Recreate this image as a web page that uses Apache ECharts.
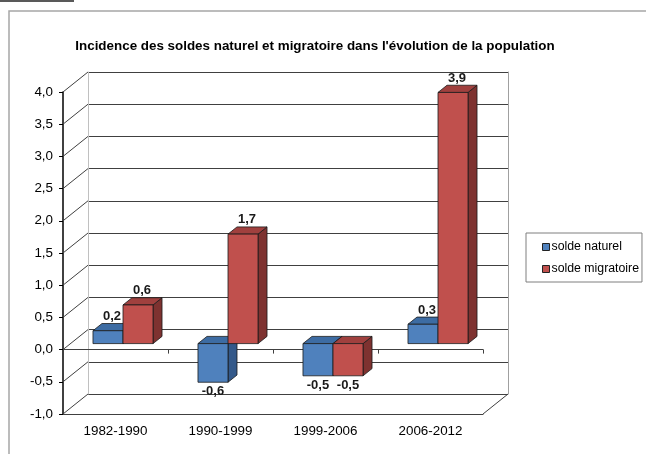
<!DOCTYPE html>
<html>
<head>
<meta charset="utf-8">
<script src="https://cdn.jsdelivr.net/npm/echarts@6/dist/echarts.min.js"></script>
<style>
html,body{margin:0;padding:0;background:#fff;}
#chart{width:646px;height:454px;}
</style>
</head>
<body>
<div id="chart"></div>
<script>
// ---- data ----
const categories = ['1982-1990', '1990-1999', '1999-2006', '2006-2012'];
const soldeNaturel = [0.2, -0.6, -0.5, 0.3];
const soldeMigratoire = [0.6, 1.7, -0.5, 3.9];
const yTicks = [-1, -0.5, 0, 0.5, 1, 1.5, 2, 2.5, 3, 3.5, 4];
const seriesNames = ['solde naturel', 'solde migratoire'];

// ---- layout / style ----
const FONT = 'Liberation Sans, Arial, sans-serif';
const FRONT = { left: 63, top: 92, width: 420, height: 322 };
const BACK = { left: 88, top: 72, width: 420, height: 322 };
const DX = BACK.left - FRONT.left;   // depth offset x
const DY = BACK.top - FRONT.top;     // depth offset y
const BAR_FRONT = 0.3;               // bar front plane (fraction of depth)
const BAR_DEPTH = 0.36;              // bar depth (fraction of depth)
const BAR_W = 0.286;                 // bar width (fraction of category)
const COLORS = [
  { front: '#4F81BD', top: '#3D6CA3', side: '#34598A' },
  { front: '#C0504D', top: '#A0403E', side: '#7E3230' }
];
const fmt = v => v.toFixed(1).replace('.', ',');

function barRenderer(sIdx) {
  return function (params, api) {
    const i = api.value(0), v = api.value(1);
    const c0 = api.coord([i, 0]);
    const c1 = api.coord([i, v]);
    const cw = api.size([1, 0])[0];
    const bw = cw * BAR_W;
    const fx = DX * BAR_FRONT, fy = DY * BAR_FRONT;
    const ddx = DX * BAR_DEPTH, ddy = DY * BAR_DEPTH;
    const x0 = c0[0] + (sIdx === 0 ? -bw : 0) + fx;
    const x1 = x0 + bw;
    const yb = c0[1] + fy, yt = c1[1] + fy;
    const top = Math.min(yb, yt), bot = Math.max(yb, yt);
    const col = COLORS[sIdx];
    const stroke = { stroke: '#1a1a1a', lineWidth: 0.8 };
    const children = [
      { type: 'polygon', shape: { points: [[x1, top], [x1 + ddx, top + ddy], [x1 + ddx, bot + ddy], [x1, bot]] },
        style: Object.assign({ fill: col.side }, stroke) },
      { type: 'polygon', shape: { points: [[x0, top], [x0 + ddx, top + ddy], [x1 + ddx, top + ddy], [x1, top]] },
        style: Object.assign({ fill: col.top }, stroke) },
      { type: 'rect', shape: { x: x0, y: top, width: bw, height: bot - top },
        style: Object.assign({ fill: col.front }, stroke) }
    ];
    const cx = (x0 + x1) / 2;
    if (v >= 0) {
      children.push({ type: 'text', z2: 10, style: { text: fmt(v), x: cx + 4, y: top + ddy - 7,
        align: 'center', verticalAlign: 'middle', fill: '#1a1a1a', font: 'bold 13px ' + FONT } });
    } else {
      children.push({ type: 'text', z2: 10, style: { text: fmt(v), x: cx, y: bot + 3,
        align: 'center', verticalAlign: 'top', fill: '#1a1a1a', font: 'bold 13px ' + FONT } });
    }
    return { type: 'group', children: children };
  };
}

const chart = echarts.init(document.getElementById('chart'), null, { renderer: 'canvas' });
const option = {
  animation: false,
  backgroundColor: '#fff',
  title: {
    text: "Incidence des soldes naturel et migratoire dans l'évolution de la population",
    left: 310, top: 35, textAlign: 'center',
    textStyle: { fontFamily: FONT, fontSize: 13.4, fontWeight: 'bold', color: '#000' }
  },
  legend: {
    orient: 'vertical', left: 526, top: 233,
    padding: [8, 3, 7, 16], itemGap: 10,
    itemWidth: 7, itemHeight: 7, icon: 'rect',
    borderColor: '#7f7f7f', borderWidth: 1,
    textStyle: { fontFamily: FONT, fontSize: 12.3, color: '#000', padding: [0, 0, 0, -3] },
    data: seriesNames.map((n, k) => ({ name: n, itemStyle: { color: COLORS[k].front, borderColor: '#222', borderWidth: 1 } }))
  },
  graphic: [
    { type: 'rect', shape: { x: 9, y: 11, width: 700, height: 500 }, style: { fill: 'none', stroke: '#a6a6a6', lineWidth: 1.5 }, z: -10 },
    { type: 'rect', shape: { x: 0, y: 0, width: 74, height: 2 }, style: { fill: '#595959' } }
  ],
  grid: [
    Object.assign({ containLabel: false }, BACK),
    Object.assign({ containLabel: false }, FRONT)
  ],
  xAxis: [
    { gridIndex: 0, type: 'category', data: categories, show: true,
      axisLine: { show: false }, axisTick: { show: false }, axisLabel: { show: false }, splitLine: { show: false } },
    { gridIndex: 1, type: 'category', data: categories, position: 'bottom',
      axisLine: { onZero: true, lineStyle: { color: '#404040', width: 1 } },
      axisTick: { show: true, alignWithLabel: false, length: 4, lineStyle: { color: '#404040' } },
      axisLabel: { show: false }, splitLine: { show: false } },
    { gridIndex: 1, type: 'category', data: categories, position: 'bottom',
      axisLine: { onZero: false, lineStyle: { color: '#404040', width: 1 } },
      axisTick: { show: false },
      axisLabel: { show: true, margin: 11, fontFamily: FONT, fontSize: 13.4, color: '#000' }, splitLine: { show: false } }
  ],
  yAxis: [
    { gridIndex: 0, type: 'value', min: -1, max: 4, interval: 0.5, position: 'left',
      axisLine: { show: true, lineStyle: { color: '#c0c0c0' } }, axisTick: { show: false }, axisLabel: { show: false },
      splitLine: { show: true, lineStyle: { color: '#404040', width: 1 } } },
    { gridIndex: 0, type: 'value', min: -1, max: 4, interval: 0.5, position: 'right',
      axisLine: { show: true, lineStyle: { color: '#a0a0a0' } }, axisTick: { show: false }, axisLabel: { show: false },
      splitLine: { show: false } },
    { gridIndex: 1, type: 'value', min: -1, max: 4, interval: 0.5, position: 'left',
      axisLine: { show: true, lineStyle: { color: '#000', width: 1.5 } },
      axisTick: { show: true, length: 4, lineStyle: { color: '#000' } },
      axisLabel: { margin: 10, fontFamily: FONT, fontSize: 13.4, color: '#000', formatter: v => fmt(v) },
      splitLine: { show: false } }
  ],
  series: [
    { // depth connectors from front axis ticks to the back wall
      type: 'custom', xAxisIndex: 1, yAxisIndex: 2, silent: true, z: 1,
      data: yTicks.map(v => [0, v]),
      renderItem: function (params, api) {
        const y = api.coord([0, api.value(1)])[1];
        const x = params.coordSys.x;
        return { type: 'line', shape: { x1: x, y1: y, x2: x + DX, y2: y + DY },
          style: { stroke: '#404040', lineWidth: 1 } };
      }
    },
    { // right floor edge
      type: 'custom', xAxisIndex: 1, yAxisIndex: 2, silent: true, z: 1,
      data: [[0, yTicks[0]]],
      renderItem: function (params, api) {
        const y = api.coord([0, api.value(1)])[1];
        const x = params.coordSys.x + params.coordSys.width;
        return { type: 'line', shape: { x1: x, y1: y, x2: x + DX, y2: y + DY },
          style: { stroke: '#404040', lineWidth: 1 } };
      }
    },
    { name: seriesNames[0], type: 'custom', xAxisIndex: 1, yAxisIndex: 2, z: 3,
      itemStyle: { color: COLORS[0].front },
      data: soldeNaturel.map((v, i) => [i, v]),
      renderItem: barRenderer(0) },
    { name: seriesNames[1], type: 'custom', xAxisIndex: 1, yAxisIndex: 2, z: 3,
      itemStyle: { color: COLORS[1].front },
      data: soldeMigratoire.map((v, i) => [i, v]),
      renderItem: barRenderer(1) }
  ]
};
chart.setOption(option);
</script>
</body>
</html>
